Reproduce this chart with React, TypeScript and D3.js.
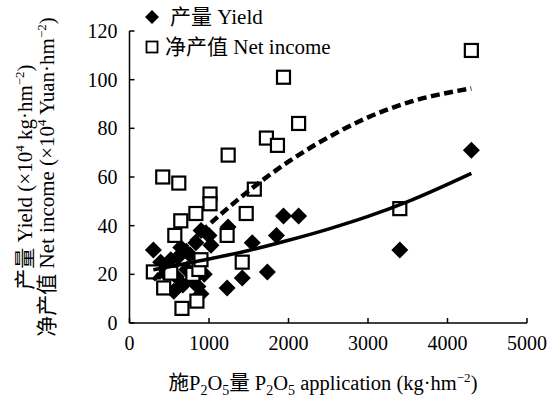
import React from "react";
import * as d3 from "d3";

// Yield (diamonds)
const yieldX = [300, 392, 430, 480, 519, 557, 590, 608, 645, 671, 720, 760, 800, 835, 861, 880, 899, 900, 940, 1000, 1025, 1228, 1240, 1418, 1544, 1734, 1848, 1937, 2127, 3400, 4300];
const yieldY = [30, 25, 21, 23, 26, 13, 19, 27, 31, 15.6, 22, 28, 18, 33, 15, 25, 12, 38, 20, 36, 32, 14.4, 39.5, 18.5, 33, 21, 36, 44, 44, 30, 71];

// Net income (squares)
const incomeX = [300, 418, 430, 519, 570, 620, 645, 660, 797, 835, 848, 873, 899, 1013, 1013, 1228, 1241, 1418, 1468, 1570, 1722, 1861, 1937, 2127, 3400, 4300];
const incomeY = [21, 60, 14.4, 20.5, 36, 57.5, 42, 6, 20, 45, 9, 22, 26, 53, 49, 36, 69, 25, 45, 55, 76, 73, 101, 82, 47, 112];

// Trend lines
const yieldTrendX = [300, 1000, 1500, 2000, 2500, 3000, 3500, 4300];
const yieldTrendY = [21.9, 26.3, 29.8, 34.0, 38.6, 43.8, 49.9, 61.5];
const incomeTrendX = [300, 600, 1000, 1500, 2000, 2500, 3000, 3500, 4300];
const incomeTrendY = [17.7, 27.9, 40.4, 54.3, 66.3, 76.3, 84.5, 90.6, 96.4];

const xTicks = [0, 1000, 2000, 3000, 4000, 5000];
const yTicks = [0, 20, 40, 60, 80, 100, 120];

const FONT = "'Liberation Serif', 'Times New Roman', 'Noto Sans CJK SC', serif";

export default function App() {
  const W = 547, H = 398;
  const x = d3.scaleLinear().domain([0, 5000]).range([129.5, 527]);
  const y = d3.scaleLinear().domain([0, 120]).range([323, 31]);
  const line = d3.line<[number, number]>().x(d => x(d[0])).y(d => y(d[1])).curve(d3.curveMonotoneX);
  const yTrend = line(yieldTrendX.map((v, i) => [v, yieldTrendY[i]]) as [number, number][]) || "";
  const iTrend = line(incomeTrendX.map((v, i) => [v, incomeTrendY[i]]) as [number, number][]) || "";
  const dr = 8.5;
  const sq = 13;
  const diamond = (cx: number, cy: number, r: number) => `M${cx},${cy - r}L${cx + r},${cy}L${cx},${cy + r}L${cx - r},${cy}Z`;
  const x0 = x(0), yb = y(0);

  return (
    <svg width={W} height={H} style={{ position: "absolute", left: 0, top: 0, background: "#fff" }} fontFamily={FONT}>
      <rect width={W} height={H} fill="#fff" />
      {/* axes */}
      <line x1={x0} x2={x0} y1={y(120)} y2={yb} stroke="#000" strokeWidth={1.5} />
      <line x1={x0} x2={x(5000)} y1={yb} y2={yb} stroke="#000" strokeWidth={1.5} />
      {yTicks.map(t => (
        <g key={"y" + t}>
          <line x1={x0} x2={x0 + 5} y1={y(t)} y2={y(t)} stroke="#000" strokeWidth={1.5} />
          <text x={x0 - 12} y={y(t)} dy="0.35em" textAnchor="end" fontSize={20}>{t}</text>
        </g>
      ))}
      {xTicks.map(t => (
        <g key={"x" + t}>
          <line x1={x(t)} x2={x(t)} y1={yb} y2={yb - 5} stroke="#000" strokeWidth={1.5} />
          <text x={x(t)} y={yb + 20} dy="0.35em" textAnchor="middle" fontSize={20}>{t}</text>
        </g>
      ))}
      {/* diamonds */}
      {yieldX.map((v, i) => (
        <path key={"d" + i} d={diamond(x(v), y(yieldY[i]), dr)} fill="#000" />
      ))}
      {/* squares */}
      {incomeX.map((v, i) => (
        <rect key={"s" + i} x={x(v) - sq / 2} y={y(incomeY[i]) - sq / 2} width={sq} height={sq} fill="#fff" stroke="#000" strokeWidth={2.2} />
      ))}
      {/* trend lines */}
      <path d={yTrend} fill="none" stroke="#000" strokeWidth={3.5} />
      <path d={iTrend} fill="none" stroke="#000" strokeWidth={4.5} strokeDasharray="9,4.5" />
      {/* legend */}
      <path d={diamond(152, 17, 7)} fill="#000" />
      <text x={170} y={17} dy="0.35em" fontSize={21}>产量 Yield</text>
      <rect x={146.5} y={41.5} width={11} height={11} fill="#fff" stroke="#000" strokeWidth={1.8} />
      <text x={165} y={47} dy="0.35em" fontSize={21}>净产值 Net income</text>
      {/* x title */}
      <text x={323} y={383} dy="0.35em" textAnchor="middle" fontSize={20.5}>
        施P<tspan fontSize={14} dy={5}>2</tspan><tspan dy={-5}>O</tspan><tspan fontSize={14} dy={5}>5</tspan><tspan dy={-5}>量 P</tspan><tspan fontSize={14} dy={5}>2</tspan><tspan dy={-5}>O</tspan><tspan fontSize={14} dy={5}>5</tspan><tspan dy={-5}> application (kg·hm</tspan><tspan fontSize={13} dy={-8}>−2</tspan><tspan dy={8}>)</tspan>
      </text>
      {/* y title */}
      <g transform="translate(25,177) rotate(-90)">
        <text x={0} y={0} dy="0.35em" textAnchor="middle" fontSize={21}>
          产量 Yield (×10<tspan fontSize={13} dy={-8}>4</tspan><tspan dy={8}> kg·hm</tspan><tspan fontSize={13} dy={-8}>−2</tspan><tspan dy={8}>)</tspan>
        </text>
        <text x={0} y={22} dy="0.35em" textAnchor="middle" fontSize={21}>
          净产值 Net income (×10<tspan fontSize={13} dy={-8}>4</tspan><tspan dy={8}> Yuan·hm</tspan><tspan fontSize={13} dy={-8}>−2</tspan><tspan dy={8}>)</tspan>
        </text>
      </g>
    </svg>
  );
}
